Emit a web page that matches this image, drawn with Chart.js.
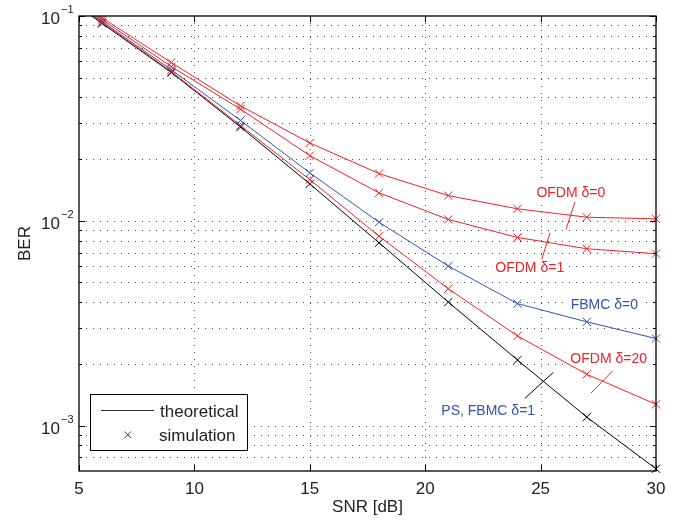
<!DOCTYPE html>
<html lang="en">
<head>
  <meta charset="UTF-8">
  <title>BER vs SNR</title>
  <style>
    html, body { margin: 0; padding: 0; background: #fff; }
    #wrap { width: 693px; height: 523px; }
  </style>
  <script src="https://cdn.jsdelivr.net/npm/chart.js"></script>
</head>
<body>
  <div id="wrap"><canvas id="berChart" width="693" height="523"></canvas></div>

  <script>
    // SNR points (5 dB is only where the curves leave the top edge, no marker there)
    const snr = [5, 6, 9, 12, 15, 18, 21, 24, 27, 30];

    const berOfdm0  = [0.116,  0.098, 0.0592, 0.0364, 0.0240,  0.0170,  0.01328, 0.01144, 0.01041, 0.01022];
    const berOfdm1  = [0.1145, 0.096, 0.0566, 0.0351, 0.0208,  0.01369, 0.01015, 0.00829, 0.00730, 0.00691];
    const berFbmc0  = [0.1126, 0.094, 0.0546, 0.0309, 0.01714, 0.00984, 0.00601, 0.00394, 0.00321, 0.00266];
    const berOfdm20 = [0.1118, 0.093, 0.0535, 0.0292, 0.01589, 0.00841, 0.00466, 0.00274, 0.00178, 0.00127];
    const berTheory = [0.1106, 0.092, 0.0530, 0.0287, 0.01514, 0.00781, 0.00401, 0.00209, 0.00110, 0.000615];

    const xTicks = [5, 10, 15, 20, 25, 30];
    const yExponents = [-3, -2, -1];
    const yMin = 6.1e-4;
    const yMax = 0.1;

    // curve labels: [text, snr, ber at baseline], leader lines: two (snr, ber) ends
    const labelTexts = ['OFDM δ=0', 'OFDM δ=1', 'FBMC δ=0', 'OFDM δ=20', 'PS, FBMC δ=1'];
    const labelSnr   = [26.31, 24.53, 27.76, 27.95, 22.73];
    const labelBer   = [0.01309, 0.00564, 0.003726, 0.002011, 0.001126];
    const leaderSnr  = [[26.49, 26.10], [25.05, 25.41], null, [28.12, 27.18], [24.32, 25.55]];
    const leaderBer  = [[0.01238, 0.00907], [0.00648, 0.00874], null, [0.00185, 0.00144], [0.001358, 0.001818]];

    const RED = '#ee2228';
    const BLUE = '#3352aa';
    const labelColors = [RED, RED, BLUE, RED, BLUE];
    const FONT = "'Liberation Sans', Arial, Helvetica, sans-serif";

    // minor + major grid values for the log axis
    const yGrid = [];
    for (let e = -4; e <= -1; e++) {
      for (let m = 1; m <= 9; m++) {
        const v = Number((m * Math.pow(10, e)).toPrecision(3));
        if (v >= yMin && v <= yMax) yGrid.push(v);
      }
    }

    const toPoints = (vals) => snr.map((s, i) => ({ x: s, y: vals[i] }));
    const markerRadius = snr.map(s => (s < 6 ? 0 : 5.8));

    const makeSeries = (vals, color) => ({
      data: toPoints(vals),
      borderColor: color,
      backgroundColor: color,
      borderWidth: 1,
      pointStyle: 'crossRot',
      pointRadius: markerRadius,
      pointBorderWidth: 1,
      pointBorderColor: color,
      tension: 0,
      clip: { left: 0, top: 0, right: 10, bottom: 10 }
    });

    function strokeLine(ctx, x1, y1, x2, y2) {
      ctx.beginPath();
      ctx.moveTo(x1, y1);
      ctx.lineTo(x2, y2);
      ctx.stroke();
    }

    const matlabAxes = {
      id: 'matlabAxes',
      beforeDatasetsDraw(chart) {
        const { ctx, chartArea: a, scales: { x, y } } = chart;
        ctx.save();
        ctx.strokeStyle = 'rgba(0,0,0,0.7)';
        ctx.lineWidth = 1;
        ctx.setLineDash([1, 6]);
        xTicks.forEach(v => {
          if (v === x.min || v === x.max) return;
          const px = Math.round(x.getPixelForValue(v)) + 0.5;
          strokeLine(ctx, px, a.top, px, a.bottom);
        });
        yGrid.forEach(v => {
          const py = Math.round(y.getPixelForValue(v)) + 0.5;
          if (py <= a.top + 1 || py >= a.bottom - 1) return;
          strokeLine(ctx, a.left, py, a.right, py);
        });

        // white boxes behind the curve labels hide the grid there
        ctx.fillStyle = '#fff';
        ctx.font = '14px ' + FONT;
        labelTexts.forEach((t, i) => {
          const w = ctx.measureText(t).width + 6;
          const cx = x.getPixelForValue(labelSnr[i]);
          const by = y.getPixelForValue(labelBer[i]);
          ctx.fillRect(cx - w / 2, by - 13, w, 17);
        });
        ctx.restore();
      },
      afterDatasetsDraw(chart) {
        const { ctx, chartArea: a, scales: { x, y } } = chart;
        ctx.save();

        // box and inward ticks
        ctx.strokeStyle = '#000';
        ctx.lineWidth = 1.3;
        ctx.strokeRect(a.left, a.top, a.right - a.left, a.bottom - a.top);
        ctx.lineWidth = 1;
        xTicks.forEach(v => {
          const px = Math.round(x.getPixelForValue(v)) + 0.5;
          strokeLine(ctx, px, a.bottom, px, a.bottom - 6);
          strokeLine(ctx, px, a.top, px, a.top + 6);
        });
        yGrid.forEach(v => {
          const py = Math.round(y.getPixelForValue(v)) + 0.5;
          const major = yExponents.some(e => Math.abs(v - Math.pow(10, e)) < 1e-12);
          const len = major ? 6 : 3;
          strokeLine(ctx, a.left, py, a.left + len, py);
          strokeLine(ctx, a.right, py, a.right - len, py);
        });

        // tick labels
        ctx.fillStyle = '#222';
        ctx.font = '17px ' + FONT;
        ctx.textAlign = 'center';
        ctx.textBaseline = 'alphabetic';
        xTicks.forEach(v => ctx.fillText(String(v), x.getPixelForValue(v), a.bottom + 23));
        yExponents.forEach(e => {
          const py = y.getPixelForValue(Math.pow(10, e));
          ctx.font = '17px ' + FONT;
          ctx.textAlign = 'right';
          ctx.fillText('10', 60, py + 8);
          ctx.font = '11px ' + FONT;
          ctx.textAlign = 'left';
          ctx.fillText('\u2212' + Math.abs(e), 61, py - 3);
        });

        // axis titles
        ctx.font = '17px ' + FONT;
        ctx.textAlign = 'center';
        ctx.fillText('SNR [dB]', (a.left + a.right) / 2, 512);
        ctx.save();
        ctx.translate(30, (a.top + a.bottom) / 2);
        ctx.rotate(-Math.PI / 2);
        ctx.fillText('BER', 0, 0);
        ctx.restore();

        // curve labels and leader lines
        ctx.font = '14px ' + FONT;
        ctx.textAlign = 'center';
        labelTexts.forEach((t, i) => {
          ctx.fillStyle = labelColors[i];
          ctx.fillText(t, x.getPixelForValue(labelSnr[i]), y.getPixelForValue(labelBer[i]));
        });
        leaderSnr.forEach((s, i) => {
          if (!s) return;
          ctx.strokeStyle = i === 4 ? '#000' : RED;
          strokeLine(ctx,
            x.getPixelForValue(s[0]), y.getPixelForValue(leaderBer[i][0]),
            x.getPixelForValue(s[1]), y.getPixelForValue(leaderBer[i][1]));
        });

        // legend
        ctx.fillStyle = '#fff';
        ctx.fillRect(90, 394, 157, 56);
        ctx.strokeStyle = '#000';
        ctx.lineWidth = 1;
        ctx.strokeRect(90.5, 394.5, 157, 56);
        ctx.strokeStyle = '#333';
        strokeLine(ctx, 101, 410.5, 154, 410.5);
        strokeLine(ctx, 124.5, 431.5, 131, 438);
        strokeLine(ctx, 124.5, 438, 131, 431.5);
        ctx.fillStyle = '#222';
        ctx.font = '17px ' + FONT;
        ctx.textAlign = 'left';
        ctx.fillText('theoretical', 160, 416.5);
        ctx.fillText('simulation', 159, 440.5);

        ctx.restore();
      }
    };

    const ctx = document.getElementById('berChart').getContext('2d');
    const berChart = new Chart(ctx, {
      type: 'line',
      data: {
        datasets: [
          makeSeries(berOfdm0, RED),
          makeSeries(berOfdm1, RED),
          makeSeries(berFbmc0, BLUE),
          makeSeries(berOfdm20, RED),
          makeSeries(berTheory, '#000')
        ]
      },
      options: {
        responsive: false,
        animation: false,
        devicePixelRatio: 1,
        layout: { padding: { left: 79, right: 37, top: 16, bottom: 52 } },
        scales: {
          x: { type: 'linear', min: 5, max: 30, display: false },
          y: { type: 'logarithmic', min: yMin, max: yMax, display: false }
        },
        plugins: {
          legend: { display: false },
          tooltip: { enabled: false }
        }
      },
      plugins: [matlabAxes]
    });
  </script>
</body>
</html>
